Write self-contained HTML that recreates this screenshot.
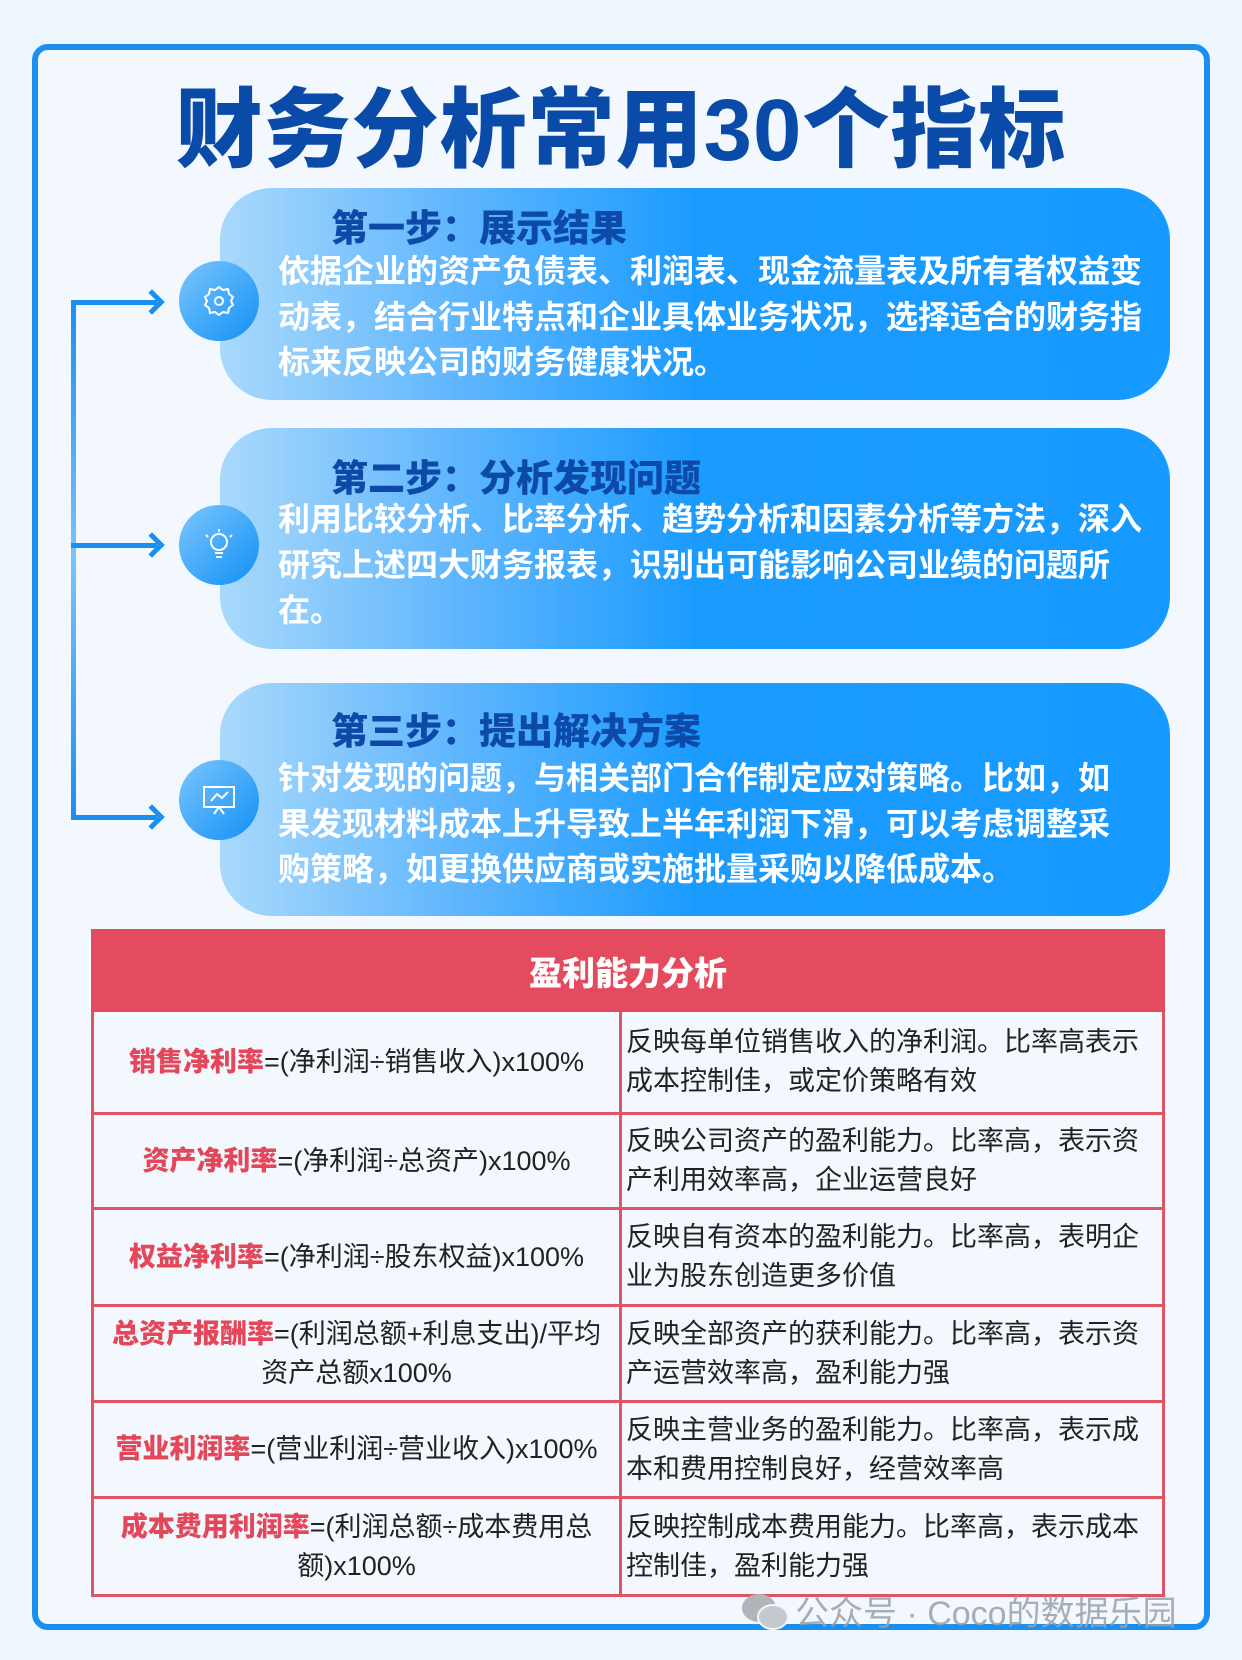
<!DOCTYPE html>
<html><head><meta charset="utf-8"><style>
*{margin:0;padding:0;box-sizing:border-box}
body{width:1242px;height:1660px;background:#eef6fd;position:relative;overflow:hidden;font-family:"Liberation Sans","Noto Sans CJK SC",sans-serif}
.frame{position:absolute;left:32px;top:44px;width:1178px;height:1586px;border:6px solid #1a8ff0;border-radius:16px;background:#f2f8fe}
.title{position:absolute;left:0;width:1242px;top:60px;text-align:center;font-size:87px;font-weight:900;color:#0a4aa8;letter-spacing:1px}
.box{position:absolute;left:220px;width:950px;border-radius:52px;background:linear-gradient(90deg,#a9d9fc 0%,#5fb6fd 25%,#1c9bff 50%,#169aff 100%)}
.box h3{position:absolute;left:111px;font-size:37px;font-weight:900;color:#0d4aa8}
.box p{position:absolute;left:58px;width:880px;font-size:32px;font-weight:700;color:#fff;line-height:45.5px;white-space:nowrap}
.circ{position:absolute;left:179px;width:80px;height:80px;border-radius:50%;background:linear-gradient(135deg,#7cc6fd,#1190f5);}
.circ svg{position:absolute;left:22px;top:22px}
.vl{position:absolute;left:71px;top:300px;width:5px;height:518px;background:linear-gradient(180deg,#1a8ff0,#7cc3f8 50%,#1a8ff0)}
.ar{position:absolute;left:71px;height:5px;width:86px;background:#1a8ff0}
.ah{position:absolute;left:143px;width:18px;height:18px;border-top:5px solid #1a8ff0;border-right:5px solid #1a8ff0;transform:rotate(45deg)}
table{position:absolute;left:91px;top:929px;width:1074px;border-collapse:collapse;font-size:27px;color:#222}
th{background:#e54b5e;color:#fff;height:80px;font-size:33px;font-weight:900;border:3px solid #e54b5e}
td{border:3px solid #e05466;vertical-align:middle;line-height:39px}
td.l{width:528px;text-align:center;padding:0 4px}
td.r{padding:0 4px}
td b{color:#e5475a;font-weight:900}
.wm{position:absolute;left:795px;top:1586px;font-size:34px;color:#9aa1a8;opacity:.85}
.wi{position:absolute;left:740px;top:1592px}
</style></head><body>
<div class="frame"></div>
<div class="title">财务分析常用30个指标</div>
<div class="vl"></div>
<div class="ar" style="top:300px"></div><div class="ah" style="top:293px"></div>
<div class="ar" style="top:543px"></div><div class="ah" style="top:536px"></div>
<div class="ar" style="top:815px"></div><div class="ah" style="top:808px"></div>

<div class="box" style="top:188px;height:212px"><h3 style="top:10px">第一步：展示结果</h3>
<p style="top:61px">依据企业的资产负债表、利润表、现金流量表及所有者权益变<br>动表，结合行业特点和企业具体业务状况，选择适合的财务指<br>标来反映公司的财务健康状况。</p></div>
<div class="box" style="top:428px;height:221px"><h3 style="top:20px">第二步：分析发现问题</h3>
<p style="top:69px">利用比较分析、比率分析、趋势分析和因素分析等方法，深入<br>研究上述四大财务报表，识别出可能影响公司业绩的问题所<br>在。</p></div>
<div class="box" style="top:683px;height:233px"><h3 style="top:18px">第三步：提出解决方案</h3>
<p style="top:73px">针对发现的问题，与相关部门合作制定应对策略。比如，如<br>果发现材料成本上升导致上半年利润下滑，可以考虑调整采<br>购策略，如更换供应商或实施批量采购以降低成本。</p></div>

<div class="circ" style="top:261px"><svg width="36" height="36" viewBox="0 0 36 36"><path d="M18 4l4 3 5-1 1 5 4 3-2 4 2 4-4 3-1 5-5-1-4 3-4-3-5 1-1-5-4-3 2-4-2-4 4-3 1-5 5 1z" fill="none" stroke="#fff" stroke-width="2"/><circle cx="18" cy="18" r="4" fill="none" stroke="#fff" stroke-width="2"/></svg></div>
<div class="circ" style="top:505px"><svg width="36" height="36" viewBox="0 0 36 36"><circle cx="18" cy="15" r="8" fill="none" stroke="#fff" stroke-width="2"/><path d="M14 26h8M15 30h6M18 2v3M5 8l2 2M31 8l-2 2" stroke="#fff" stroke-width="2"/></svg></div>
<div class="circ" style="top:760px"><svg width="36" height="36" viewBox="0 0 36 36"><rect x="3" y="5" width="30" height="20" fill="none" stroke="#fff" stroke-width="2"/><path d="M10 19l6-7 5 4 6-6M18 25l-5 7M18 25l5 7" fill="none" stroke="#fff" stroke-width="2"/></svg></div>

<table>
<tr><th colspan="2">盈利能力分析</th></tr>
<tr style="height:103px"><td class="l"><b>销售净利率</b>=(净利润÷销售收入)x100%</td><td class="r">反映每单位销售收入的净利润。比率高表示成本控制佳，或定价策略有效</td></tr>
<tr style="height:95px"><td class="l"><b>资产净利率</b>=(净利润÷总资产)x100%</td><td class="r">反映公司资产的盈利能力。比率高，表示资产利用效率高，企业运营良好</td></tr>
<tr style="height:97px"><td class="l"><b>权益净利率</b>=(净利润÷股东权益)x100%</td><td class="r">反映自有资本的盈利能力。比率高，表明企业为股东创造更多价值</td></tr>
<tr style="height:96px"><td class="l"><b>总资产报酬率</b>=(利润总额+利息支出)/平均<br>资产总额x100%</td><td class="r">反映全部资产的获利能力。比率高，表示资产运营效率高，盈利能力强</td></tr>
<tr style="height:96px"><td class="l"><b>营业利润率</b>=(营业利润÷营业收入)x100%</td><td class="r">反映主营业务的盈利能力。比率高，表示成本和费用控制良好，经营效率高</td></tr>
<tr style="height:98px"><td class="l"><b>成本费用利润率</b>=(利润总额÷成本费用总<br>额)x100%</td><td class="r">反映控制成本费用能力。比率高，表示成本控制佳，盈利能力强</td></tr>
</table>
<svg class="wi" width="50" height="40" viewBox="0 0 50 40"><ellipse cx="19" cy="16" rx="17" ry="14" fill="#b0b5ba"/><ellipse cx="33" cy="25" rx="15" ry="12" fill="#c5c9cd" stroke="#eef6fd" stroke-width="2"/></svg>
<div class="wm">公众号 · Coco的数据乐园</div>
</body></html>
